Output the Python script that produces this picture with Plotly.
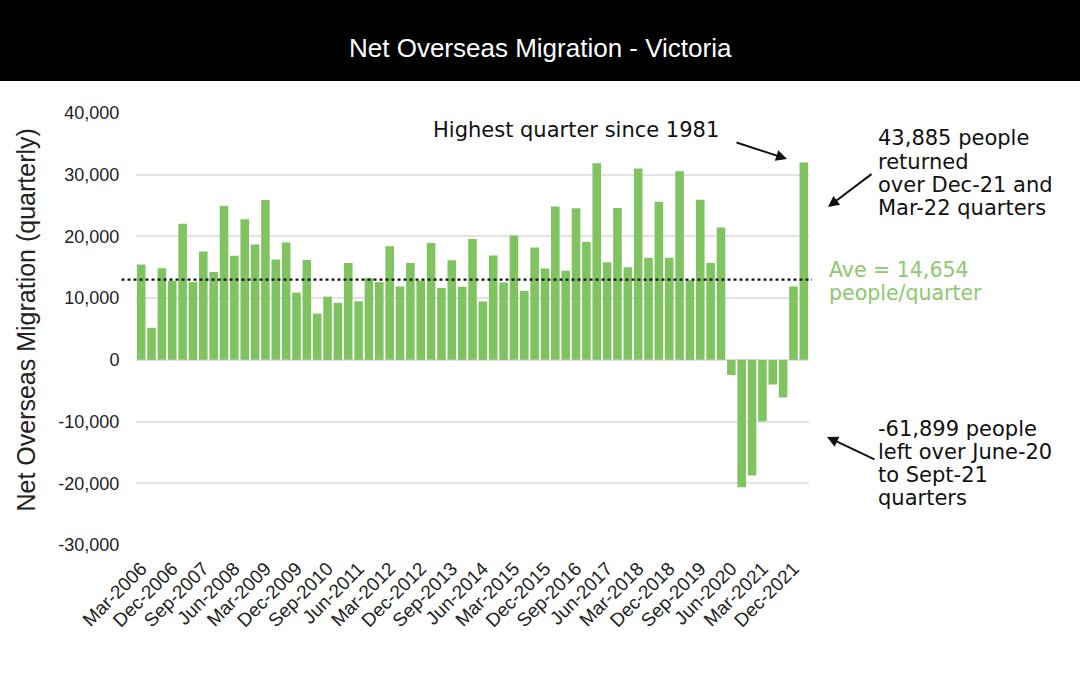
import plotly.graph_objects as go

# ---- data ----
months = ["Mar", "Jun", "Sep", "Dec"]
years = list(range(2006, 2023))
quarters = [f"{m}-{y}" for y in years for m in months][:65]  # Mar-2006 .. Mar-2022

net_migration = [
    15450, 5200, 14850, 12800, 22050, 12600, 17550, 14250, 24950, 16850,
    22800, 18700, 25900, 16250, 19000, 10900, 16200, 7500, 10250, 9250,
    15700, 9500, 13250, 12600, 18400, 11900, 15700, 12850, 18950, 11650,
    16150, 11850, 19600, 9450, 16900, 12550, 20150, 11200, 18200, 14800,
    24850, 14450, 24550, 19100, 31850, 15800, 24600, 15000, 31000, 16550,
    25600, 16550, 30550, 12900, 25950, 15700, 21450, -2450, -20650, -18750,
    -9950, -4000, -6100, 11900, 31985,
]

tick_labels = [
    "Mar-2006", "Dec-2006", "Sep-2007", "Jun-2008", "Mar-2009", "Dec-2009",
    "Sep-2010", "Jun-2011", "Mar-2012", "Dec-2012", "Sep-2013", "Jun-2014",
    "Mar-2015", "Dec-2015", "Sep-2016", "Jun-2017", "Mar-2018", "Dec-2018",
    "Sep-2019", "Jun-2020", "Mar-2021", "Dec-2021",
]
y_ticks = [-30000, -20000, -10000, 0, 10000, 20000, 30000, 40000]
average_line = 13000  # position of the dotted line as drawn

# ---- layout geometry (pixels) ----
W, H = 1080, 676
L, R, T, B = 135.5, 809, 113, 545
pw, ph = R - L, B - T

def px(x):
    return (x - L) / pw

def py(y):
    return (B - y) / ph

GREEN = "#80c462"
FA = "DejaVu Sans"

fig = go.Figure()
fig.add_trace(go.Bar(
    x=quarters, y=net_migration, marker=dict(color=GREEN, line=dict(width=0)),
    hoverinfo="x+y",
))

fig.update_layout(
    width=W, height=H,
    margin=dict(l=L, r=W - R, t=T, b=H - B),
    paper_bgcolor="white", plot_bgcolor="white",
    bargap=0.17,
    showlegend=False,
    font=dict(family="Liberation Sans", color="#222"),
)

fig.update_xaxes(
    type="category", categoryorder="array", categoryarray=quarters,
    tickmode="array", tickvals=tick_labels, ticktext=tick_labels,
    tickangle=-45, tickfont=dict(size=19, color="#222", family="Liberation Sans"),
    showgrid=False, showline=False, zeroline=False, ticks="outside", ticklen=4,
    tickcolor="rgba(0,0,0,0)",
)
fig.update_yaxes(
    range=[-30000, 40000], tickvals=y_ticks,
    ticktext=[f"{v:,}" for v in y_ticks],
    tickfont=dict(size=18, color="#222", family="Liberation Sans"),
    showgrid=True, gridcolor="#e3e3e3", gridwidth=1.5,
    zeroline=False, showline=False,
    ticks="outside", ticklen=12, tickcolor="rgba(0,0,0,0)",
)

# black title band + title
fig.add_shape(type="rect", xref="paper", yref="paper",
              x0=px(-2), x1=px(W + 2), y0=py(81), y1=py(-2),
              fillcolor="black", line=dict(width=0), layer="below")
fig.add_annotation(xref="paper", yref="paper", x=px(540), y=py(48),
                   xanchor="center", yanchor="middle", showarrow=False,
                   text="Net Overseas Migration - Victoria",
                   font=dict(family="Liberation Sans", size=26, color="white"))

# y axis title
fig.add_annotation(xref="paper", yref="paper", x=px(25), y=py(320),
                   xanchor="center", yanchor="middle", showarrow=False, textangle=-90,
                   text="Net Overseas Migration (quarterly)",
                   font=dict(family="Liberation Sans", size=25, color="#222"))

# dotted average line
fig.add_shape(type="line", xref="paper", yref="y",
              x0=px(121), x1=px(812), y0=average_line, y1=average_line,
              line=dict(color="#111", width=2.2, dash="dot"))

def text_line(x, y, txt, color="#111", size=21):
    fig.add_annotation(xref="paper", yref="paper", x=px(x), y=py(y),
                       xanchor="left", yanchor="middle", showarrow=False,
                       text=txt, font=dict(family=FA, size=size, color=color))

text_line(431, 130, "Highest quarter since 1981")
for yy, t in zip([138, 161.5, 185, 208],
                 ["43,885 people", "returned", "over Dec-21 and", "Mar-22 quarters"]):
    text_line(876, yy, t)
for yy, t in zip([270, 293], ["Ave = 14,654", "people/quarter"]):
    text_line(827, yy, t, color="#8cc870", size=20.5)
for yy, t in zip([429, 452, 475, 498],
                 ["-61,899 people", "left over June-20", "to Sept-21", "quarters"]):
    text_line(876, yy, t)

# arrows
for hx, hy, tx, ty in [(787, 159, 735, 142), (828, 207, 873, 173), (827, 437, 876, 460)]:
    fig.add_annotation(xref="paper", yref="paper", x=px(hx), y=py(hy),
                       ax=tx - hx, ay=ty - hy, text="", showarrow=True,
                       arrowhead=2, arrowsize=1.1, arrowwidth=2, arrowcolor="#111")

fig.write_html(
    "out.html",
    config={"displayModeBar": False},
    post_script="document.body.style.margin='0';document.body.style.overflow='hidden';",
)
